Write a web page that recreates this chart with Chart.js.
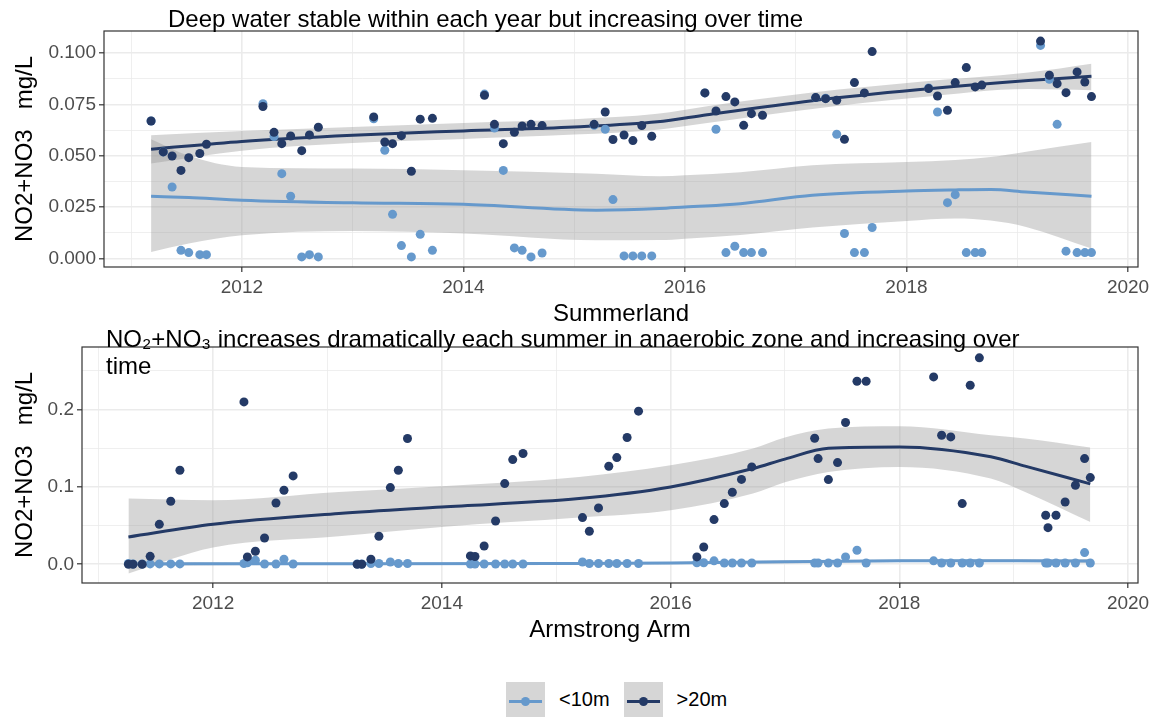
<!DOCTYPE html>
<html>
<head>
<meta charset="utf-8">
<script src="https://cdn.jsdelivr.net/npm/chart.js@4.4.1/dist/chart.umd.min.js"></script>
<style>
  html, body { margin: 0; padding: 0; background: #fff; }
  body { width: 1157px; height: 717px; position: relative; overflow: hidden;
         font-family: "Liberation Sans", Arial, sans-serif; }
  canvas { position: absolute; left: 0; }
  #summerland { top: 0; }
  #armstrong { top: 330px; }
  .legend { position: absolute; top: 682px; left: 506px; height: 35px;
            display: flex; align-items: center; font-size: 20px; color: #000; }
  .key { position: relative; width: 39px; height: 35px; background: #d6d6d6; }
  .key .line { position: absolute; left: 3px; right: 3px; top: 18px; height: 3px; }
  .key .dot { position: absolute; left: 15px; top: 15px; width: 9px; height: 9px; border-radius: 50%; }
  .lab { margin: 0 14px 0 14px; }
</style>
</head>
<body>
<canvas id="summerland" width="1157" height="330"></canvas>
<canvas id="armstrong" width="1157" height="316"></canvas>
<div class="legend">
  <div class="key"><div class="line" style="background:#6699cc"></div><div class="dot" style="background:#6699cc"></div></div>
  <span class="lab">&lt;10m</span>
  <div class="key"><div class="line" style="background:#243a66"></div><div class="dot" style="background:#243a66"></div></div>
  <span class="lab">&gt;20m</span>
</div>
<script>
// ---- shared axis ticks ----
var xTicks = [2011, 2012, 2013, 2014, 2015, 2016, 2017, 2018, 2019, 2020];
var xTickLabels = ['', '2012', '', '2014', '', '2016', '', '2018', '', '2020'];

// ---- Summerland (top panel) ----
var summerlandYTicks = [0, 0.0125, 0.025, 0.0375, 0.05, 0.0625, 0.075, 0.0875, 0.1];
var summerlandYLabels = ['0.000', '', '0.025', '', '0.050', '', '0.075', '', '0.100'];

var summerlandDate = [
  2011.18, 2011.29, 2011.37, 2011.45, 2011.52, 2011.62, 2011.68,
  2012.19, 2012.29, 2012.36, 2012.44, 2012.54, 2012.61, 2012.69,
  2013.19, 2013.29, 2013.36, 2013.44, 2013.53, 2013.61, 2013.72,
  2014.19, 2014.28, 2014.36, 2014.46, 2014.53, 2014.61, 2014.71,
  2015.18, 2015.28, 2015.35, 2015.45, 2015.53, 2015.61, 2015.70,
  2016.18, 2016.28, 2016.37, 2016.45, 2016.53, 2016.60, 2016.70,
  2017.18, 2017.27, 2017.37, 2017.44, 2017.53, 2017.62, 2017.69,
  2018.20, 2018.28, 2018.37, 2018.44, 2018.54, 2018.62, 2018.68,
  2019.21, 2019.29, 2019.36, 2019.44, 2019.54, 2019.61, 2019.67
];
var summerlandShallow = [
  0.0669, 0.0519, 0.0348, 0.0040, 0.0029, 0.0019, 0.0019,
  0.0753, 0.0594, 0.0413, 0.0303, 0.0008, 0.0019, 0.0008,
  0.0680, 0.0527, 0.0215, 0.0063, 0.0008, 0.0118, 0.0040,
  0.0800, 0.0635, 0.0429, 0.0052, 0.0040, 0.0008, 0.0027,
  0.0648, 0.0629, 0.0287, 0.0013, 0.0013, 0.0013, 0.0013,
  0.0806, 0.0629, 0.0029, 0.0060, 0.0029, 0.0029, 0.0029,
  0.0783, 0.0780, 0.0605, 0.0122, 0.0029, 0.0029, 0.0151,
  0.0830, 0.0713, 0.0272, 0.0311, 0.0029, 0.0029, 0.0029,
  0.1037, 0.0872, 0.0653, 0.0036, 0.0029, 0.0029, 0.0029
];
var summerlandDeep = [
  0.0669, 0.0519, 0.0499, 0.0429, 0.0491, 0.0511, 0.0556,
  0.0740, 0.0614, 0.0559, 0.0596, 0.0525, 0.0601, 0.0639,
  0.0689, 0.0567, 0.0559, 0.0598, 0.0425, 0.0678, 0.0682,
  0.0794, 0.0653, 0.0559, 0.0614, 0.0645, 0.0653, 0.0647,
  0.0653, 0.0713, 0.0579, 0.0601, 0.0574, 0.0647, 0.0595,
  0.0806, 0.0718, 0.0788, 0.0762, 0.0648, 0.0705, 0.0697,
  0.0783, 0.0778, 0.0770, 0.0580, 0.0856, 0.0806, 0.1007,
  0.0827, 0.0791, 0.0721, 0.0856, 0.0929, 0.0835, 0.0844,
  0.1058, 0.0892, 0.0851, 0.0807, 0.0908, 0.0859, 0.0788
];

// loess fits + 95% bands
var summerlandShallowFitDate = [2011.18, 2011.52, 2012.0, 2013.0, 2014.0, 2015.2, 2015.77, 2016.0, 2016.5, 2017.15, 2018.0, 2018.44, 2018.76, 2019.08, 2019.67];
var summerlandShallowFit  = [0.0303, 0.0297, 0.0284, 0.0271, 0.0264, 0.0235, 0.0243, 0.0251, 0.0267, 0.0308, 0.0329, 0.0334, 0.0336, 0.0324, 0.0303];
var summerlandShallowLow  = [0.0032, 0.0073, 0.0113, 0.0134, 0.0122, 0.0089, 0.0090, 0.0097, 0.0115, 0.0151, 0.0183, 0.0195, 0.0185, 0.0154, 0.0049];
var summerlandShallowHigh = [0.0580, 0.0500, 0.0446, 0.0438, 0.0430, 0.0413, 0.0400, 0.0405, 0.0420, 0.0454, 0.0470, 0.0480, 0.0494, 0.0520, 0.0567];

var summerlandDeepFitDate = [2011.18, 2012.0, 2013.0, 2014.0, 2015.0, 2015.75, 2016.2, 2017.15, 2018.1, 2019.1, 2019.67];
var summerlandDeepFit  = [0.0532, 0.0570, 0.0600, 0.0621, 0.0640, 0.0665, 0.0700, 0.0768, 0.0821, 0.0866, 0.0887];
var summerlandDeepLow  = [0.0462, 0.0525, 0.0562, 0.0582, 0.0603, 0.0627, 0.0660, 0.0728, 0.0783, 0.0825, 0.0819];
var summerlandDeepHigh = [0.0600, 0.0620, 0.0640, 0.0660, 0.0678, 0.0704, 0.0741, 0.0808, 0.0859, 0.0905, 0.0948];

// ---- Armstrong Arm (bottom panel) ----
var armstrongYTicks = [0, 0.05, 0.1, 0.15, 0.2, 0.25];
var armstrongYLabels = ['0.0', '', '0.1', '', '0.2', ''];

var armstrongDate = [
  2011.26, 2011.30, 2011.38, 2011.45, 2011.53, 2011.63, 2011.71,
  2012.27, 2012.30, 2012.37, 2012.45, 2012.55, 2012.62, 2012.70,
  2013.26, 2013.30, 2013.38, 2013.45, 2013.55, 2013.62, 2013.70,
  2014.25, 2014.29, 2014.37, 2014.47, 2014.55, 2014.62, 2014.71,
  2015.23, 2015.29, 2015.37, 2015.46, 2015.53, 2015.62, 2015.72,
  2016.23, 2016.29, 2016.38, 2016.47, 2016.54, 2016.62, 2016.71,
  2017.26, 2017.29, 2017.38, 2017.46, 2017.53, 2017.63, 2017.71,
  2018.30, 2018.37, 2018.45, 2018.55, 2018.62, 2018.70,
  2019.28, 2019.30, 2019.37, 2019.45, 2019.54, 2019.62, 2019.67
];
var armstrongShallow = [
  0.0010, 0.0005, 0.0005, 0.0005, 0.0005, 0.0005, 0.0005,
  0.0010, 0.0020, 0.0052, 0.0003, 0.0003, 0.0065, 0.0003,
  0.0003, 0.0003, 0.0010, 0.0010, 0.0030, 0.0010, 0.0010,
  0.0003, 0.0003, 0.0003, 0.0003, 0.0003, 0.0003, 0.0003,
  0.0030, 0.0010, 0.0010, 0.0010, 0.0010, 0.0010, 0.0010,
  0.0020, 0.0020, 0.0045, 0.0017, 0.0017, 0.0017, 0.0017,
  0.0017, 0.0017, 0.0017, 0.0017, 0.0095, 0.0181, 0.0017,
  0.0045, 0.0017, 0.0017, 0.0017, 0.0017, 0.0017,
  0.0017, 0.0017, 0.0017, 0.0017, 0.0017, 0.0151, 0.0017
];
var armstrongDeep = [
  0.0000, 0.0000, 0.0000, 0.0103, 0.0517, 0.0815, 0.1216,
  0.2100, 0.0095, 0.0168, 0.0340, 0.0793, 0.0957, 0.1143,
  0.0000, 0.0000, 0.0065, 0.0362, 0.0992, 0.1216, 0.1626,
  0.0108, 0.0100, 0.0237, 0.0560, 0.1044, 0.1354, 0.1432,
  0.0604, 0.0427, 0.0729, 0.1268, 0.1380, 0.1639, 0.1980,
  0.0095, 0.0224, 0.0578, 0.0785, 0.0931, 0.1098, 0.1259,
  0.1630, 0.1367, 0.1095, 0.1315, 0.1833, 0.2367, 0.2367,
  0.2423, 0.1669, 0.1647, 0.0785, 0.2316, 0.2670,
  0.0634, 0.0474, 0.0634, 0.0806, 0.1022, 0.1367, 0.1121
];

var armstrongShallowFitDate = [2011.26, 2013.0, 2015.0, 2016.0, 2017.0, 2018.0, 2019.0, 2019.67];
var armstrongShallowFit  = [0.0005, 0.0007, 0.0010, 0.0016, 0.0032, 0.0045, 0.0046, 0.0043];
var armstrongShallowLow  = [-0.0020, -0.0005, 0.0000, 0.0002, 0.0015, 0.0028, 0.0028, 0.0018];
var armstrongShallowHigh = [0.0030, 0.0019, 0.0020, 0.0030, 0.0049, 0.0062, 0.0064, 0.0068];

var armstrongDeepFitDate = [2011.26, 2012.0, 2013.1, 2014.0, 2015.2, 2016.0, 2016.72, 2017.0, 2017.38, 2018.0, 2018.8, 2019.1, 2019.67];
var armstrongDeepFit  = [0.0353, 0.0517, 0.0656, 0.0741, 0.0850, 0.1000, 0.1238, 0.1360, 0.1500, 0.1518, 0.1390, 0.1270, 0.1040];
var armstrongDeepLow  = [-0.0120, 0.0216, 0.0362, 0.0483, 0.0604, 0.0699, 0.0914, 0.1060, 0.1194, 0.1259, 0.1108, 0.0935, 0.0547];
var armstrongDeepHigh = [0.0850, 0.0828, 0.0935, 0.1009, 0.1130, 0.1280, 0.1497, 0.1640, 0.1755, 0.1785, 0.1669, 0.1626, 0.1510];

// ---- styling ----
var SHALLOW = '#6699cc';
var DEEP = '#243a66';
var BAND = 'rgba(153,153,153,0.4)';
var FONT = '"Liberation Sans", Arial, sans-serif';

Chart.defaults.font.family = FONT;

function pairs(xs, ys) {
  return xs.map(function(x, i) { return { x: x, y: ys[i] }; });
}

// ribbon (low + high filled to it), fit line, for one group
function smoothSets(dates, fit, low, high, color, baseOrder) {
  return [
    { type: 'line', data: pairs(dates, low), borderWidth: 0, borderColor: 'rgba(0,0,0,0)',
      pointRadius: 0, fill: false, cubicInterpolationMode: 'monotone', order: baseOrder + 1 },
    { type: 'line', data: pairs(dates, high), borderWidth: 0, borderColor: 'rgba(0,0,0,0)',
      backgroundColor: BAND, pointRadius: 0, fill: '-1', cubicInterpolationMode: 'monotone', order: baseOrder + 1 },
    { type: 'line', data: pairs(dates, fit), borderColor: color, borderWidth: 3,
      pointRadius: 0, fill: false, cubicInterpolationMode: 'monotone', order: baseOrder }
  ];
}

function pointSet(dates, values, color, order) {
  return { type: 'scatter', data: pairs(dates, values), backgroundColor: color,
           borderWidth: 0, pointRadius: 4.5, order: order };
}

function makeScales(name, xRange, yRange, yTicks, yLabels, yWidth) {
  return {
    x: {
      type: 'linear', min: xRange[0], max: xRange[1],
      afterFit: function(s) { s.height = 63; },
      afterBuildTicks: function(s) { s.ticks = xTicks.map(function(v) { return { value: v }; }); },
      ticks: { autoSkip: false, maxRotation: 0, padding: 4, color: '#4d4d4d', font: { size: 19 },
               callback: function(v, i) { return xTickLabels[i]; } },
      grid: { color: '#ebebeb', tickLength: 5, tickWidth: 1.2,
              lineWidth: function(c) { return xTickLabels[c.index] ? 1.6 : 0.8; },
              tickColor: function(c) { return xTickLabels[c.index] ? '#333333' : 'rgba(0,0,0,0)'; } },
      border: { display: false },
      title: { display: true, text: name, color: '#000', font: { size: 24 }, padding: { top: 0, bottom: 1 } }
    },
    y: {
      min: yRange[0], max: yRange[1],
      afterFit: function(s) { s.width = yWidth; },
      afterBuildTicks: function(s) { s.ticks = yTicks.map(function(v) { return { value: v }; }); },
      ticks: { autoSkip: false, padding: 3, color: '#4d4d4d', font: { size: 19 },
               callback: function(v, i) { return yLabels[i]; } },
      grid: { color: '#ebebeb', tickLength: 5, tickWidth: 1.2,
              lineWidth: function(c) { return yLabels[c.index] ? 1.6 : 0.8; },
              tickColor: function(c) { return yLabels[c.index] ? '#333333' : 'rgba(0,0,0,0)'; } },
      border: { display: false },
      title: { display: true, text: 'NO2+NO3   mg/L', color: '#000', font: { size: 24 }, padding: { top: 11, bottom: 0 } }
    }
  };
}

// panel border + free-floating title text
var panelFrame = {
  id: 'panelFrame',
  afterDatasetsDraw: function(chart) {
    var a = chart.chartArea, ctx = chart.ctx;
    ctx.save();
    ctx.strokeStyle = '#333333';
    ctx.lineWidth = 1.2;
    ctx.strokeRect(a.left, a.top, a.right - a.left, a.bottom - a.top);
    ctx.restore();
  },
  afterDraw: function(chart, args, opts) {
    var ctx = chart.ctx;
    ctx.save();
    ctx.fillStyle = '#000';
    ctx.font = '24px ' + FONT;
    ctx.textBaseline = 'alphabetic';
    opts.lines.forEach(function(t, i) { ctx.fillText(t, opts.x, opts.y + i * opts.lineHeight); });
    ctx.restore();
  }
};

function baseOptions(scales, padTop, title) {
  return {
    responsive: false, animation: false, devicePixelRatio: 1, events: [],
    layout: { padding: { top: padTop, right: 19, bottom: 0, left: 0 } },
    plugins: { legend: { display: false }, tooltip: { enabled: false }, panelFrame: title },
    scales: scales
  };
}

new Chart(document.getElementById('summerland'), {
  type: 'scatter',
  data: {
    datasets: []
      .concat(smoothSets(summerlandShallowFitDate, summerlandShallowFit, summerlandShallowLow, summerlandShallowHigh, SHALLOW, 7))
      .concat(smoothSets(summerlandDeepFitDate, summerlandDeepFit, summerlandDeepLow, summerlandDeepHigh, DEEP, 4))
      .concat([pointSet(summerlandDate, summerlandShallow, SHALLOW, 2), pointSet(summerlandDate, summerlandDeep, DEEP, 1)])
  },
  options: baseOptions(
    makeScales('Summerland', [2010.755, 2020.09], [-0.0041, 0.1107], summerlandYTicks, summerlandYLabels, 104),
    31,
    { lines: ['Deep water stable within each year but increasing over time'], x: 168, y: 27, lineHeight: 27 }
  ),
  plugins: [panelFrame]
});

new Chart(document.getElementById('armstrong'), {
  type: 'scatter',
  data: {
    datasets: []
      .concat(smoothSets(armstrongShallowFitDate, armstrongShallowFit, armstrongShallowLow, armstrongShallowHigh, SHALLOW, 7))
      .concat(smoothSets(armstrongDeepFitDate, armstrongDeepFit, armstrongDeepLow, armstrongDeepHigh, DEEP, 4))
      .concat([pointSet(armstrongDate, armstrongShallow, SHALLOW, 2), pointSet(armstrongDate, armstrongDeep, DEEP, 1)])
  },
  options: baseOptions(
    makeScales('Armstrong Arm', [2010.854, 2020.087], [-0.0242, 0.281], armstrongYTicks, armstrongYLabels, 82),
    17,
    { lines: ['NO\u2082+NO\u2083 increases dramatically each summer in anaerobic zone and increasing over', 'time'],
      x: 106, y: 17, lineHeight: 27 }
  ),
  plugins: [panelFrame]
});
</script>
</body>
</html>
